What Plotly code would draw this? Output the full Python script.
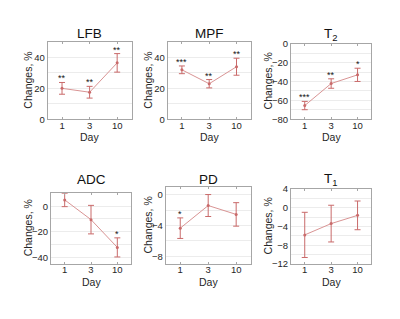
import plotly.graph_objects as go

days = ["1", "3", "10"]

titles = ["LFB", "MPF", "T<sub>2</sub>", "ADC", "PD", "T<sub>1</sub>"]

lfb_mean = [20.0, 17.5, 36.5]
lfb_err = [3.8, 3.8, 6.0]
lfb_sig = ["**", "**", "**"]

mpf_mean = [32.0, 23.0, 34.0]
mpf_err = [2.5, 2.7, 5.5]
mpf_sig = ["***", "**", "**"]

t2_mean = [-65.5, -42.2, -33.0]
t2_err = [4.4, 5.0, 7.0]
t2_sig = ["***", "**", "*"]

adc_mean = [5.0, -10.5, -32.3]
adc_err = [5.3, 11.2, 7.5]
adc_sig = ["", "", "*"]

pd_mean = [-4.35, -1.42, -2.57]
pd_err = [1.33, 1.42, 1.52]
pd_sig = ["*", "", ""]

t1_mean = [-5.8, -3.4, -1.65]
t1_err = [4.8, 3.9, 3.05]
t1_sig = ["", "", ""]

means = [lfb_mean, mpf_mean, t2_mean, adc_mean, pd_mean, t1_mean]
errs = [lfb_err, mpf_err, t2_err, adc_err, pd_err, t1_err]
sigs = [lfb_sig, mpf_sig, t2_sig, adc_sig, pd_sig, t1_sig]

# layout / style (pixels)
W, H = 400, 319
boxes = [
    (47.7, 131.5, 37.3, 117.3),
    (167.7, 250.7, 37.3, 117.3),
    (291.0, 371.3, 39.0, 117.3),
    (51.0, 131.0, 193.3, 267.3),
    (165.7, 250.7, 187.3, 267.3),
    (291.0, 371.3, 189.3, 267.3),
]
title_y = [29.7, 29.5, 30.0, 180.7, 180.3, 180.3]
ylab_x = [28, 148, 268, 28, 148, 268]
yranges = [(0, 50), (0, 50), (-80, 0), (-45.4, 10.7), (-9, 1), (-12, 4)]
ydticks = [(20, 10), (20, 10), (20, 10), (20, 10), (4, 2), (4, 2)]

FONT = "Liberation Sans, Arial, sans-serif"
TXT = "#262626"
LINE_C = "#d99494"
ERR_C = "#c96a6a"
GRID_C = "#ececec"
BORDER_C = "#a6a6a6"

fig = go.Figure()
annotations = []
for i in range(6):
    xl, xr, yt, yb = boxes[i]
    xa = "xaxis" if i == 0 else f"xaxis{i+1}"
    ya = "yaxis" if i == 0 else f"yaxis{i+1}"
    xref = "x" if i == 0 else f"x{i+1}"
    yref = "y" if i == 0 else f"y{i+1}"
    fig.add_trace(go.Scatter(
        x=days, y=means[i], xaxis=xref, yaxis=yref, mode="lines+markers",
        line=dict(color=LINE_C, width=1),
        marker=dict(color=ERR_C, size=3),
        error_y=dict(type="data", array=errs[i], color=ERR_C, thickness=1, width=3),
        showlegend=False, hoverinfo="skip",
    ))
    dt, mdt = ydticks[i]
    fig.update_layout(**{
        xa: dict(domain=[xl / W, xr / W], anchor=yref, type="category",
                 range=[-0.52, 2.52], showgrid=False, showline=True, mirror="allticks",
                 linecolor=BORDER_C, linewidth=1, ticks="inside", ticklen=2,
                 tickcolor=BORDER_C, tickfont=dict(size=9.5, color=TXT, family=FONT),
                 ticklabelstandoff=-3,
                 zeroline=False, fixedrange=True),
        ya: dict(domain=[1 - yb / H, 1 - yt / H], anchor=xref, range=list(yranges[i]),
                 dtick=dt, tick0=0, showgrid=True, gridcolor=GRID_C, gridwidth=1,
                 minor=dict(dtick=mdt, tick0=0, showgrid=True, gridcolor=GRID_C, gridwidth=1),
                 showline=True, mirror=True, linecolor=BORDER_C, linewidth=1,
                 ticks="", tickfont=dict(size=9.5, color=TXT, family=FONT),
                 zeroline=False, fixedrange=True),
    })
    cx = (xl + xr) / 2
    # title
    annotations.append(dict(text=titles[i], x=cx / W, y=1 - (title_y[i] - 1) / H, xref="paper",
                            yref="paper", xanchor="center", yanchor="middle", showarrow=False,
                            font=dict(size=13.5, color="#111", family=FONT)))
    # x axis label
    annotations.append(dict(text="Day", x=cx / W, y=1 - (yb + 18.5) / H, xref="paper", yref="paper",
                            xanchor="center", yanchor="middle", showarrow=False,
                            font=dict(size=10.5, color=TXT, family=FONT)))
    # y axis label
    annotations.append(dict(text="Changes, %", x=ylab_x[i] / W, y=1 - ((yt + yb) / 2) / H, xref="paper",
                            yref="paper", xanchor="center", yanchor="middle", textangle=-90,
                            showarrow=False, font=dict(size=10.5, color=TXT, family=FONT)))
    # significance stars
    for j, (m, e, s) in enumerate(zip(means[i], errs[i], sigs[i])):
        if s:
            annotations.append(dict(text=s, x=j, y=m + e, xref=xref, yref=yref,
                                    xanchor="center", yanchor="bottom", showarrow=False,
                                    yshift=-3, font=dict(size=9, color="#111", family=FONT)))

fig.update_layout(width=W, height=H, margin=dict(l=0, r=0, t=0, b=0),
                  plot_bgcolor="white", paper_bgcolor="white", annotations=annotations)
fig.write_html("out.html", config={"displayModeBar": False},
               post_script="document.body.style.margin='0';")
